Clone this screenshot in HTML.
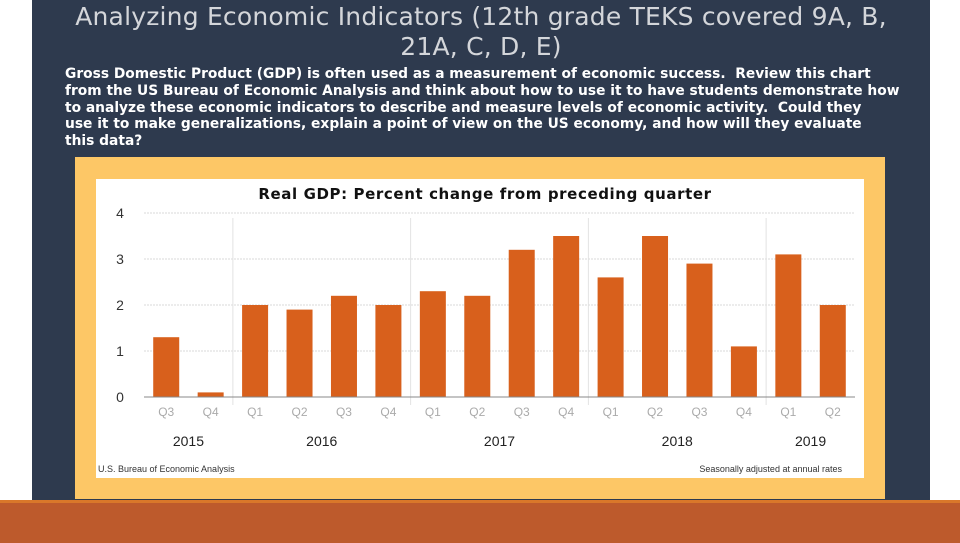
<!DOCTYPE html>
<html><head><meta charset="utf-8"><style>
body{margin:0;width:960px;height:540px;background:#fff;position:relative;overflow:hidden;font-family:"Liberation Sans","DejaVu Sans",sans-serif}
.abs{position:absolute}
#panel{left:32px;top:0;width:898px;height:500px;background:#2e3a4e}
#h1{left:32px;top:2px;width:898px;text-align:center;color:#d4d6da;font-family:"DejaVu Sans",sans-serif;font-size:25px;line-height:30px;letter-spacing:0.2px}
#body{left:65px;top:66px;width:860px;color:#fff;font-family:"DejaVu Sans",sans-serif;font-size:13.8px;line-height:16.8px;font-weight:bold;white-space:nowrap}
#frame{left:75px;top:157px;width:810px;height:342px;background:#fdc766}
#chart{left:96px;top:179px;width:768px;height:299px;background:#fff}
#orange{left:0;top:500px;width:960px;height:40px;background:#bd5a2c;border-top:3px solid #d9772a}
</style></head><body>
<div class="abs" id="panel"></div>
<div class="abs" id="h1">Analyzing Economic Indicators (12th grade TEKS covered 9A, B,<br>21A, C, D, E)</div>
<div class="abs" id="body">Gross Domestic Product (GDP) is often used as a measurement of economic success.&nbsp; Review this chart<br>from the US Bureau of Economic Analysis and think about how to use it to have students demonstrate how<br>to analyze these economic indicators to describe and measure levels of economic activity.&nbsp; Could they<br>use it to make generalizations, explain a point of view on the US economy, and how will they evaluate<br>this data?</div>
<div class="abs" id="frame"></div>
<div class="abs" id="chart"></div>
<div class="abs" id="orange"></div>
<svg class="abs" style="left:0;top:0" width="960" height="540" id="svg">
<text x="485" y="199" text-anchor="middle" font-family="DejaVu Sans,sans-serif" font-weight="bold" font-size="15" letter-spacing="0.6" fill="#111">Real GDP:  Percent change from preceding quarter</text>
<text x="98" y="472" font-size="9" fill="#333">U.S. Bureau of Economic Analysis</text>
<text x="842" y="472" text-anchor="end" font-size="9" fill="#333">Seasonally adjusted at annual rates</text>
</svg>
<script>
const quarters=["Q3","Q4","Q1","Q2","Q3","Q4","Q1","Q2","Q3","Q4","Q1","Q2","Q3","Q4","Q1","Q2"];
const values=[1.3,0.1,2.0,1.9,2.2,2.0,2.3,2.2,3.2,3.5,2.6,3.5,2.9,1.1,3.1,2.0];
const years=["2015","2016","2017","2018","2019"];
const yearStart=[0,2,6,10,14];
const yTicks=[0,1,2,3,4];
const svg=document.getElementById('svg');
const NS='http://www.w3.org/2000/svg';
const x0=144,x1=855,y0=397,ppu=46;
const step=(x1-x0)/quarters.length;
const y=v=>y0-v*ppu;
const xc=i=>x0+step*(i+0.5);
function mk(t,a){const e=document.createElementNS(NS,t);for(const k in a)e.setAttribute(k,a[k]);svg.appendChild(e);return e;}
yTicks.forEach(t=>{
  if(t>0){const g=mk('line',{x1:x0,x2:x1,y1:y(t),y2:y(t),stroke:'#d8d8d8','stroke-dasharray':'2,1'});
  
  }
  const l=mk('text',{x:120,y:y(t)+5,'text-anchor':'middle','font-size':14,fill:'#333'});l.textContent=t;
  
  
});
yearStart.forEach((s,k)=>{
  if(k>0){const sx=x0+step*s;const ln=mk('line',{x1:sx,x2:sx,y1:218,y2:405,stroke:'#e2e2e2'});
  
  }
  const e=(k<yearStart.length-1?yearStart[k+1]:quarters.length);
  const t=mk('text',{x:(xc(s)+xc(e-1))/2,y:446,'text-anchor':'middle','font-size':14,fill:'#222'});t.textContent=years[k];
  
  
});
values.forEach((v,i)=>{
  const r=mk('rect',{x:xc(i)-13,y:y(v),width:26,height:v*ppu,fill:'#d8601c'});
  
  
  const t=mk('text',{x:xc(i),y:416,'text-anchor':'middle','font-size':12,fill:'#aaa'});t.textContent=quarters[i];
  
  
});
const ax=mk('line',{x1:x0,x2:x1,y1:y0,y2:y0,stroke:'#888'});


</script>
</body></html>
